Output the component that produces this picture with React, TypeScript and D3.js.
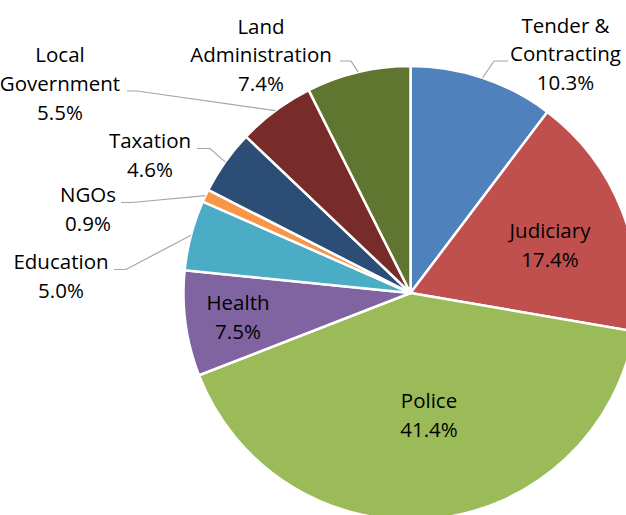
import React, { useLayoutEffect } from "react";
import * as d3 from "d3";

// ---- data ----
const categories = [
  "Tender & Contracting",
  "Judiciary",
  "Police",
  "Health",
  "Education",
  "NGOs",
  "Taxation",
  "Local Government",
  "Land Administration",
];
const values = [10.3, 17.4, 41.4, 7.5, 5.0, 0.9, 4.6, 5.5, 7.4];
const labelLines = [
  ["Tender &", "Contracting"],
  ["Judiciary"],
  ["Police"],
  ["Health"],
  ["Education"],
  ["NGOs"],
  ["Taxation"],
  ["Local", "Government"],
  ["Land", "Administration"],
];
const colors = [
  "#4F81BD",
  "#C0504D",
  "#9BBB59",
  "#8064A2",
  "#4BACC6",
  "#F79646",
  "#2C4D75",
  "#772C2A",
  "#5F7530",
];

// ---- layout ----
const W = 626;
const H = 515;
const CX = 410.5;
const CY = 293;
const R = 227;
const LINE_H = 28.8;
const FONT = "'Open Sans', 'Noto Sans', sans-serif";
const FONT_SIZE = 20.5;

// label anchor (center x, first baseline) and optional leader (label-side x, y, elbow x)
const labelLayout: { x: number; y: number; leader?: [number, number, number] }[] = [
  { x: 565.5, y: 32.5, leader: [508, 61, 494] },
  { x: 550, y: 238 },
  { x: 429, y: 408.3 },
  { x: 238, y: 309.8 },
  { x: 61, y: 269.3, leader: [114, 269.5, 126] },
  { x: 88, y: 201.7, leader: [121, 202.5, 132] },
  { x: 150, y: 148.3, leader: [197, 148.5, 210] },
  { x: 60, y: 62.3, leader: [127, 91, 137] },
  { x: 261, y: 33.5, leader: [340, 61, 351] },
];

export default function App() {
  useLayoutEffect(() => {
    document.body.style.margin = "0";
  }, []);

  const pie = d3
    .pie<number>()
    .sort(null)
    .value((d) => d)
    .startAngle(0)
    .endAngle(2 * Math.PI);
  const arcs = pie(values);
  const arc = d3.arc<d3.PieArcDatum<number>>().innerRadius(0).outerRadius(R);

  return (
    <svg
      width={W}
      height={H}
      style={{ position: "absolute", left: 0, top: 0, display: "block" }}
      fontFamily={FONT}
      fontSize={FONT_SIZE}
    >
      <g transform={`translate(${CX},${CY})`}>
        {arcs.map((a, i) => (
          <path
            key={categories[i]}
            d={arc(a) || ""}
            fill={colors[i]}
            stroke="#FFFFFF"
            strokeWidth={2.5}
            strokeLinejoin="round"
          />
        ))}
      </g>
      {arcs.map((a, i) => {
        const L = labelLayout[i];
        if (!L.leader) return null;
        const mid = (a.startAngle + a.endAngle) / 2;
        const px = CX + R * Math.sin(mid);
        const py = CY - R * Math.cos(mid);
        const [x1, y1, xe] = L.leader;
        return (
          <polyline
            key={"ld" + i}
            points={`${x1},${y1} ${xe},${y1} ${px},${py}`}
            fill="none"
            stroke="#A6A6A6"
            strokeWidth={1.2}
          />
        );
      })}
      {arcs.map((a, i) => {
        const L = labelLayout[i];
        const lines = [...labelLines[i], `${values[i].toFixed(1)}%`];
        return (
          <text key={"t" + i} textAnchor="middle" fill="#000000">
            {lines.map((ln, j) => (
              <tspan key={j} x={L.x} y={L.y + j * LINE_H}>
                {ln}
              </tspan>
            ))}
          </text>
        );
      })}
    </svg>
  );
}
